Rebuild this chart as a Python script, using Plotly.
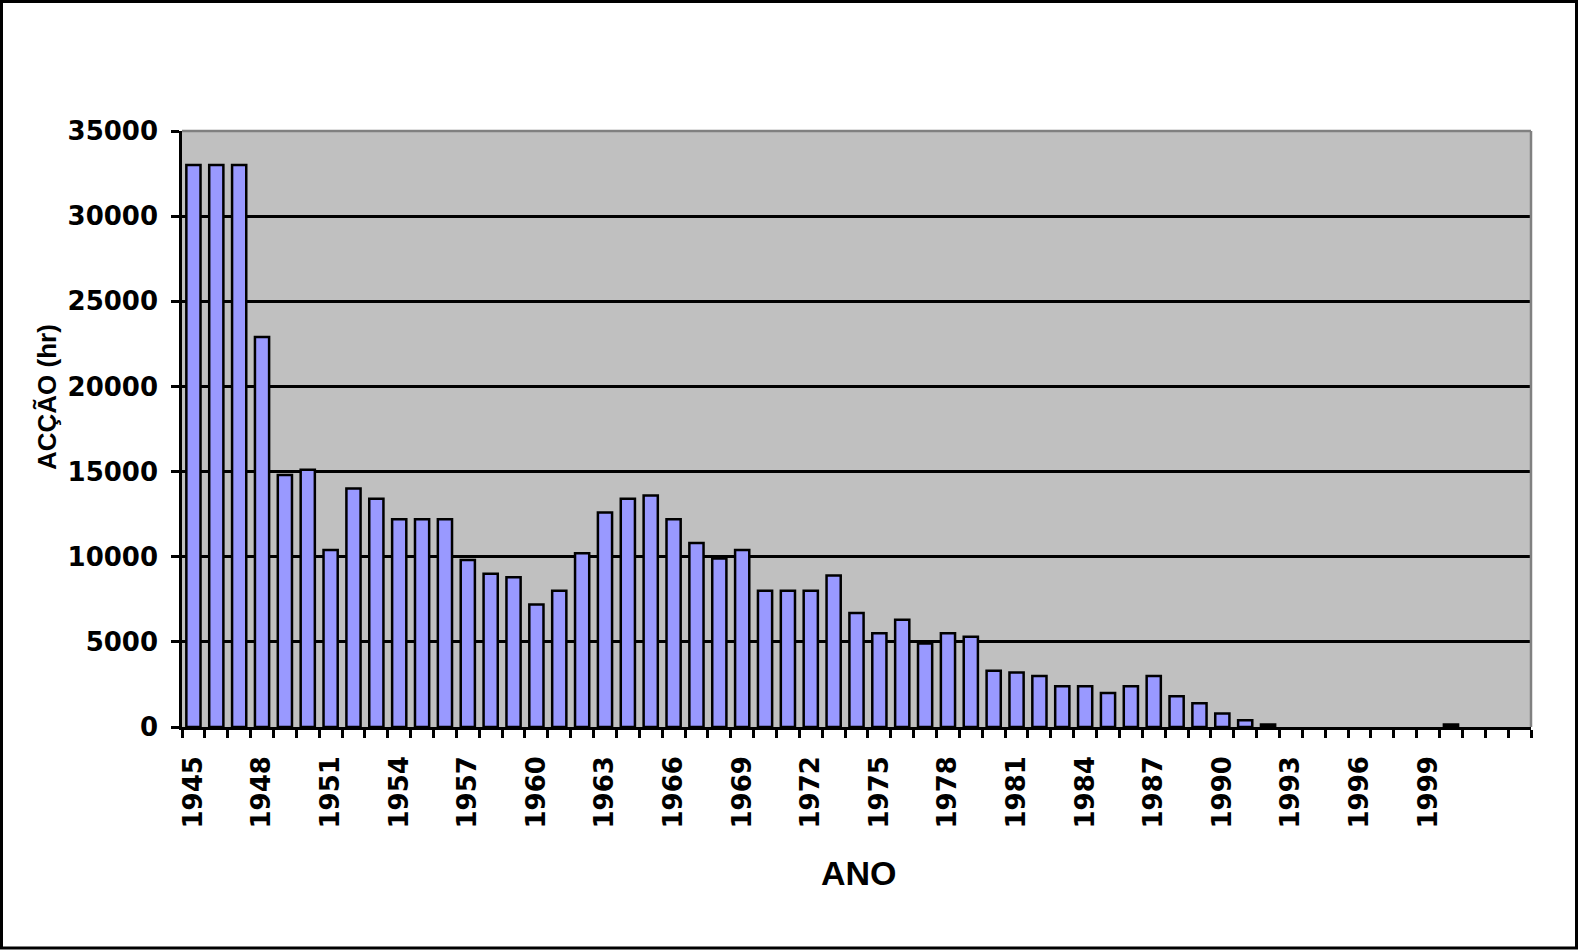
import plotly.graph_objects as go

years = list(range(1945, 2004))
hours = [33000, 33000, 33000, 22900, 14800, 15100, 10400, 14000, 13400, 12200,
         12200, 12200, 9800, 9000, 8800, 7200, 8000, 10200, 12600, 13400,
         13600, 12200, 10800, 9900, 10400, 8000, 8000, 8000, 8900, 6700,
         5500, 6300, 4900, 5500, 5300, 3300, 3200, 3000, 2400, 2400,
         2000, 2400, 3000, 1800, 1400, 800, 400, 150, 0, 0,
         0, 0, 0, 0, 0, 150, 0, 0, 0]
label_years = list(range(1945, 2000, 3))
y_ticks = list(range(0, 35001, 5000))

W, H = 1578, 952
L, R, T, B = 182, 47, 131, 225
pw, ph = W - L - R, H - T - B

fig = go.Figure(go.Bar(
    x=years, y=hours,
    marker=dict(color="#9999FF",
                line=dict(color="black", width=[2.5 if v > 0 else 0 for v in hours])),
))

def px_x(p):
    return (p - L) / pw

def px_y(p):
    return (H - B - p) / ph

fig.update_layout(
    width=W, height=H,
    margin=dict(l=L, r=R, t=T, b=B, pad=0),
    paper_bgcolor="white",
    plot_bgcolor="#C0C0C0",
    bargap=0.38,
    showlegend=False,
    xaxis=dict(
        range=[1944.5, 2003.5],
        tickmode="array", tickvals=label_years, ticktext=[str(v) for v in label_years],
        tickangle=-90, ticks="", showgrid=False,
        showline=True, linecolor="black", linewidth=2.5,
        ticklabelstandoff=16,
        tickfont=dict(family="DejaVu Sans", size=26, color="black", weight="bold"),
        minor=dict(tickvals=[v - 0.5 for v in years] + [years[-1] + 0.5],
                   ticks="outside", ticklen=8, tickwidth=2.5, tickcolor="black", showgrid=False),
        zeroline=False,
    ),
    yaxis=dict(
        range=[0, 35000],
        tickmode="array", tickvals=y_ticks, ticktext=[str(v) for v in y_ticks],
        ticks="outside", ticklen=8, tickwidth=2.5, tickcolor="black",
        showgrid=True, gridcolor="black", gridwidth=2.5,
        showline=True, linecolor="black", linewidth=2.5,
        ticklabelstandoff=8,
        tickfont=dict(family="DejaVu Sans", size=26, color="black", weight="bold"),
        zeroline=False,
    ),
    shapes=[
        dict(type="line", xref="paper", yref="paper", x0=0, x1=1, y0=1, y1=1,
             line=dict(color="#808080", width=2.5), layer="above"),
        dict(type="line", xref="paper", yref="paper", x0=1, x1=1, y0=0, y1=1,
             line=dict(color="#808080", width=2.5), layer="above"),
        dict(type="rect", xref="paper", yref="paper",
             x0=px_x(1.5), x1=px_x(1576.5), y0=px_y(1.5), y1=px_y(948),
             line=dict(color="black", width=3), fillcolor="rgba(0,0,0,0)"),
    ],
    annotations=[
        dict(text="ACÇÃO (hr)", xref="paper", yref="paper",
             x=px_x(47), y=px_y(397), textangle=-90, showarrow=False,
             xanchor="center", yanchor="middle",
             font=dict(family="Liberation Sans", size=26, color="black", weight="bold")),
        dict(text="ANO", xref="paper", yref="paper",
             x=px_x(859), y=px_y(873), showarrow=False,
             xanchor="center", yanchor="middle",
             font=dict(family="Liberation Sans", size=34, color="black", weight="bold")),
    ],
)

post = (
    "document.documentElement.style.overflow='hidden';"
    "document.body.style.margin='0px';"
    "document.body.style.overflow='hidden';"
    "var d=document.getElementById('{plot_id}');"
    "d.style.position='fixed';d.style.top='0px';d.style.left='0px';"
)
fig.write_html("out.html", config={"displayModeBar": False}, post_script=post)
